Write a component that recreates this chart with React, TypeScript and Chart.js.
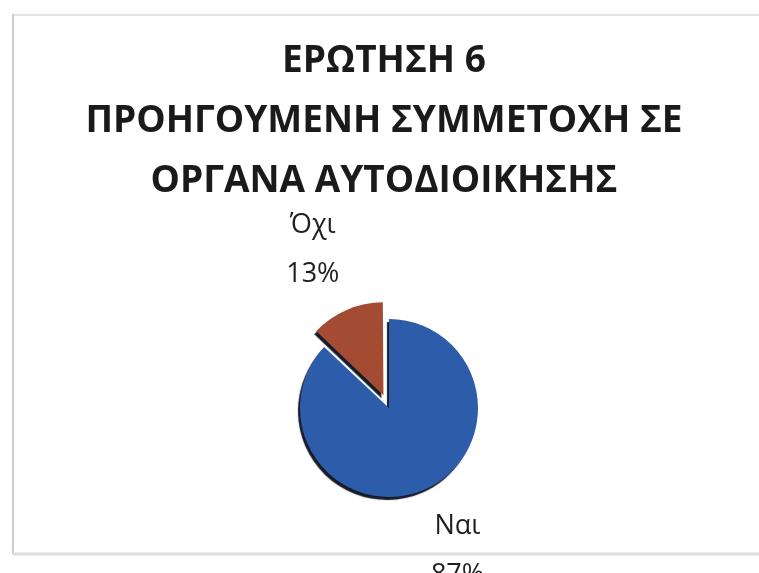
import React, { useEffect, useRef } from "react";
import { Chart, registerables } from "chart.js";

Chart.register(...registerables);

const TITLE_LINES = ["ΕΡΩΤΗΣΗ 6", "ΠΡΟΗΓΟΥΜΕΝΗ ΣΥΜΜΕΤΟΧΗ ΣΕ", "ΟΡΓΑΝΑ ΑΥΤΟΔΙΟΙΚΗΣΗΣ"];
const CATEGORIES = ["Ναι", "Όχι"];
const VALUES = [87, 13];
const PERCENT_LABELS = ["87%", "13%"];
const COLORS = ["#2D5CAB", "#A34B33"];
const OFFSETS = [0, 56];

const W = 759;
const H = 573;

const framePlugin = {
  id: "frame",
  beforeDraw(chart: any) {
    const ctx = chart.ctx;
    ctx.save();
    ctx.fillStyle = "#ffffff";
    ctx.fillRect(0, 0, W, H);
    ctx.strokeStyle = "#e2e4e8";
    ctx.lineWidth = 2;
    ctx.beginPath();
    ctx.moveTo(13, 15);
    ctx.lineTo(W, 15);
    ctx.stroke();
    ctx.strokeStyle = "#c9cdd4";
    ctx.beginPath();
    ctx.moveTo(13, 14);
    ctx.lineTo(13, 554);
    ctx.stroke();
    ctx.strokeStyle = "#dcdee2";
    ctx.lineWidth = 3;
    ctx.beginPath();
    ctx.moveTo(13, 554);
    ctx.lineTo(W, 554);
    ctx.stroke();
    ctx.restore();
  },
};

const shadowPlugin = {
  id: "sliceShadow",
  beforeDatasetsDraw(chart: any) {
    const ctx = chart.ctx;
    ctx.save();
    ctx.shadowColor = "rgba(10,15,30,0.95)";
    ctx.shadowOffsetX = -2;
    ctx.shadowOffsetY = 3;
    ctx.shadowBlur = 1;
  },
  afterDatasetsDraw(chart: any) {
    chart.ctx.restore();
  },
};

const titlePlugin = {
  id: "customTitle",
  afterDraw(chart: any) {
    const ctx = chart.ctx;
    ctx.save();
    ctx.fillStyle = "#1a1a1a";
    ctx.font = "bold 37px 'Open Sans', 'Noto Sans', sans-serif";
    ctx.textAlign = "center";
    ctx.textBaseline = "middle";
    const cx = 384;
    TITLE_LINES.forEach((line, i) => {
      ctx.fillText(line, cx, 61 + i * 60);
    });
    ctx.restore();
  },
};

// visual translation Chart.js applies to an offset arc
function visualOffset(offset: number, circumference: number) {
  const fix = 1 - Math.sin(Math.min(Math.PI, circumference || 0));
  return (offset / 4) * (1 + fix);
}

const labelPlugin = {
  id: "sliceLabels",
  afterDatasetsDraw(chart: any) {
    const ctx = chart.ctx;
    const meta = chart.getDatasetMeta(0);
    ctx.save();
    ctx.fillStyle = "#1f1f1f";
    ctx.font = "27px 'Open Sans', 'Noto Sans', sans-serif";
    ctx.textAlign = "center";
    ctx.textBaseline = "middle";
    meta.data.forEach((arc: any, i: number) => {
      const p = arc.getProps(["x", "y", "startAngle", "endAngle", "outerRadius", "circumference"], true);
      const mid = (p.startAngle + p.endAngle) / 2 - 0.04;
      const dist = p.outerRadius + visualOffset(OFFSETS[i], p.circumference) + 69;
      const bx = p.x + Math.cos(mid) * dist;
      const by = p.y + Math.sin(mid) * dist;
      ctx.fillText(CATEGORIES[i], bx, by - 24.5);
      ctx.fillText(PERCENT_LABELS[i], bx, by + 24.5);
    });
    ctx.restore();
  },
};

export default function App() {
  const ref = useRef<HTMLCanvasElement | null>(null);
  useEffect(() => {
    if (!ref.current) return;
    const chart = new Chart(ref.current, {
      type: "pie",
      data: {
        labels: CATEGORIES,
        datasets: [
          {
            data: VALUES,
            backgroundColor: COLORS,
            borderWidth: 0,
            offset: OFFSETS,
            radius: 89,
          } as any,
        ],
      },
      options: {
        animation: false,
        responsive: false,
        devicePixelRatio: 1,
        rotation: 0,
        layout: { padding: { left: 300, right: W - 478, top: 318, bottom: H - 498 } },
        plugins: {
          legend: { display: false },
          title: { display: false },
          tooltip: { enabled: false },
        },
      },
      plugins: [framePlugin, shadowPlugin, labelPlugin, titlePlugin],
    });
    return () => chart.destroy();
  }, []);
  return (
    <div style={{ position: "fixed", left: 0, top: 0, width: W, height: H, background: "#fff" }}>
      <canvas ref={ref} width={W} height={H} style={{ width: W, height: H, display: "block" }} />
    </div>
  );
}
